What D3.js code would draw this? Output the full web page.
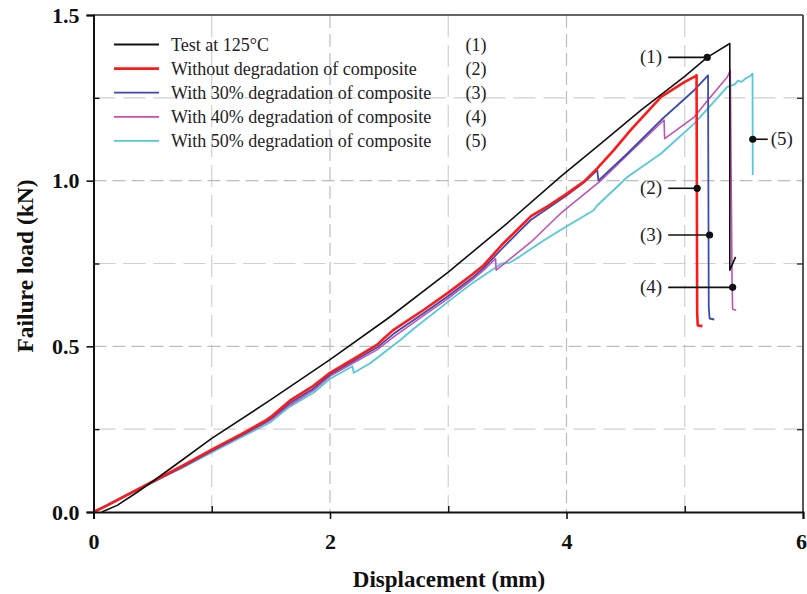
<!DOCTYPE html>
<html>
<head>
<meta charset="utf-8">
<script src="https://cdn.jsdelivr.net/npm/d3@7"></script>
<style>
  html, body { margin: 0; padding: 0; background: #fff; }
  svg { display: block; }
  text { font-family: "Liberation Serif", "Times New Roman", serif; }
</style>
</head>
<body>
<svg id="chart" width="807" height="594"></svg>
<script>
// Load–displacement curves (displacement in mm, load in kN)
const testCurve = [
  [0.07,0],[0.2,0.02],[0.35,0.055],[0.5,0.092],[0.75,0.157],[1.0,0.222],[1.5,0.339],[2.0,0.46],
  [2.5,0.587],[3.0,0.724],[3.5,0.872],[3.95,1.012],[4.3,1.115],
  [4.63,1.213],[5.0,1.315],[5.19,1.372],[5.381,1.414],[5.381,0.73],[5.43,0.77]
];
const curve0 = [
  [0,0],[0.1,0.017],[0.25,0.045],[0.5,0.092],[0.75,0.139],[1.0,0.188],[1.25,0.235],[1.45,0.275],
  [1.5,0.287],[1.66,0.336],[1.86,0.381],[2.0,0.42],[2.2,0.462],[2.4,0.505],[2.45,0.522],[2.535,0.549],
  [2.8,0.612],[3.0,0.662],[3.2,0.716],[3.3,0.745],[3.45,0.805],[3.6,0.858],[3.7,0.893],[3.85,0.925],
  [4.0,0.96],[4.15,0.998],[4.26,1.037],[4.4,1.092],[4.54,1.152],[4.8,1.253],[5.0,1.298],[5.08,1.313],
  [5.1,1.318],[5.105,0.6],[5.11,0.563],[5.15,0.561]
];
const curve30 = [
  [0,0],[0.1,0.017],[0.25,0.045],[0.5,0.09],[0.75,0.136],[1.0,0.185],[1.25,0.232],[1.45,0.271],
  [1.5,0.282],[1.66,0.329],[1.86,0.373],[2.0,0.415],[2.2,0.456],[2.4,0.497],[2.535,0.537],
  [2.8,0.602],[3.0,0.652],[3.2,0.706],[3.3,0.737],[3.45,0.793],[3.6,0.847],[3.7,0.882],[3.85,0.918],
  [4.0,0.955],[4.15,0.995],[4.26,1.032],[4.27,1.0],[4.515,1.082],[4.8,1.183],[5.08,1.273],
  [5.197,1.318],[5.203,0.62],[5.21,0.584],[5.25,0.581]
];
const curve40 = [
  [0,0],[0.1,0.018],[0.25,0.046],[0.5,0.09],[0.75,0.135],[1.0,0.183],[1.25,0.23],[1.45,0.268],
  [1.5,0.278],[1.66,0.323],[1.86,0.367],[2.0,0.41],[2.2,0.45],[2.4,0.49],[2.535,0.528],
  [2.8,0.595],[3.0,0.645],[3.2,0.7],[3.3,0.73],[3.4,0.765],[3.405,0.73],[3.7,0.815],[3.95,0.901],
  [4.29,1.0],[4.55,1.09],[4.825,1.183],[4.83,1.127],[5.08,1.192],[5.2,1.245],[5.36,1.313],
  [5.385,1.333],[5.4,0.7],[5.405,0.612],[5.435,0.609]
];
const curve50 = [
  [0,0],[0.1,0.019],[0.25,0.047],[0.5,0.09],[0.75,0.133],[1.0,0.18],[1.25,0.226],[1.45,0.262],
  [1.5,0.272],[1.66,0.318],[1.86,0.36],[2.0,0.402],[2.19,0.44],[2.2,0.42],[2.34,0.449],
  [2.595,0.519],[2.71,0.554],[3.0,0.635],[3.2,0.69],[3.41,0.74],[3.45,0.75],[3.52,0.752],
  [3.6,0.77],[3.8,0.818],[3.95,0.851],[4.23,0.911],[4.26,0.925],[4.515,1.011],[4.8,1.082],
  [5.08,1.172],[5.36,1.283],[5.42,1.29],[5.45,1.302],[5.48,1.298],[5.52,1.31],[5.55,1.315],
  [5.573,1.323],[5.575,1.017]
];

const seriesNames = [
  "Test at 125°C",
  "Without degradation of composite",
  "With 30% degradation of composite",
  "With 40% degradation of composite",
  "With 50% degradation of composite"
];
const seriesTags = ["(1)", "(2)", "(3)", "(4)", "(5)"];
const seriesColors = ["#111111", "#ff1a1a", "#3c4cae", "#c251b4", "#55c9da"];
const seriesWidths = [1.6, 2.6, 1.8, 1.6, 1.8];
const seriesData = [testCurve, curve0, curve30, curve40, curve50];

// Callout points sitting on each failure branch
const calloutPoints = [[5.19, 1.372], [5.105, 0.977], [5.21, 0.836], [5.405, 0.678], [5.575, 1.125]];

const xTicksMajor = [0, 2, 4, 6];
const xTicksMinor = [1, 3, 5];
const yTicksMajor = [0, 0.5, 1.0, 1.5];
const yTicksMinor = [0.25, 0.75, 1.25];

const svg = d3.select("#chart");
const L = 93.5, R = 803, T = 15, B = 512;
const x = d3.scaleLinear().domain([0, 6]).range([L, R]);
const y = d3.scaleLinear().domain([0, 1.5]).range([B, T]);

// Dashed grid
const grid = svg.append("g");
grid.selectAll(".gx").data(xTicksMinor.concat([2, 4])).join("line")
  .attr("x1", d => x(d)).attr("x2", d => x(d)).attr("y1", T).attr("y2", B)
  .attr("stroke", d => xTicksMajor.includes(d) ? "#bdbdbd" : "#d0d0d0")
  .attr("stroke-width", 1.2)
  .attr("stroke-dasharray", d => xTicksMajor.includes(d) ? "13,6" : "22,8");
grid.selectAll(".gy").data(yTicksMinor.concat([0.5, 1.0])).join("line")
  .attr("x1", L).attr("x2", R).attr("y1", d => y(d)).attr("y2", d => y(d))
  .attr("stroke", d => yTicksMajor.includes(d) ? "#bdbdbd" : "#d0d0d0")
  .attr("stroke-width", 1.2)
  .attr("stroke-dasharray", d => yTicksMajor.includes(d) ? "13,6" : "22,8");

// Curves
const line = d3.line().x(d => x(d[0])).y(d => y(d[1]));
const curves = svg.append("g");
[4, 3, 2, 1, 0].forEach(i => {
  curves.append("path").datum(seriesData[i])
    .attr("d", line)
    .attr("fill", "none")
    .attr("stroke", seriesColors[i])
    .attr("stroke-width", seriesWidths[i])
    .attr("stroke-linejoin", "round");
});

// Frame and axes
const frame = svg.append("g");
frame.append("line").attr("x1", L).attr("x2", R).attr("y1", T).attr("y2", T)
  .attr("stroke", "#333").attr("stroke-width", 1.5);
frame.append("line").attr("x1", R).attr("x2", R).attr("y1", T).attr("y2", B)
  .attr("stroke", "#444").attr("stroke-width", 1.8);

const xAxis = d3.axisBottom(x).tickValues(xTicksMajor).tickFormat(d3.format("d")).tickSize(7).tickPadding(14);
const gx = svg.append("g").attr("transform", `translate(0,${B})`).call(xAxis);
gx.select(".domain").attr("stroke", "#111").attr("stroke-width", 2);
gx.selectAll(".tick line").attr("stroke", "#111").attr("stroke-width", 1.6);
gx.selectAll(".tick text").attr("font-size", 22).attr("font-weight", "bold")
  .attr("font-family", "Liberation Serif, serif").attr("fill", "#111")
  .attr("dx", d => d === 6 ? -2 : 0);

const xMinor = d3.axisTop(x).tickValues(xTicksMinor).tickFormat("").tickSize(6);
const gxm = svg.append("g").attr("transform", `translate(0,${B})`).call(xMinor);
gxm.select(".domain").remove();
gxm.selectAll(".tick line").attr("stroke", "#111").attr("stroke-width", 1.4);

const yAxis = d3.axisLeft(y).tickValues(yTicksMajor).tickFormat(d3.format(".1f")).tickSize(7).tickPadding(7);
const gy = svg.append("g").attr("transform", `translate(${L},0)`).call(yAxis);
gy.select(".domain").attr("stroke", "#111").attr("stroke-width", 2);
gy.selectAll(".tick line").attr("stroke", "#111").attr("stroke-width", 1.6);
gy.selectAll(".tick text").attr("font-size", 22).attr("font-weight", "bold")
  .attr("font-family", "Liberation Serif, serif").attr("fill", "#111");

const yMinor = d3.axisRight(y).tickValues(yTicksMinor).tickFormat("").tickSize(6);
const gym = svg.append("g").attr("transform", `translate(${L},0)`).call(yMinor);
gym.select(".domain").remove();
gym.selectAll(".tick line").attr("stroke", "#111").attr("stroke-width", 1.4);

const yMinorR = d3.axisLeft(y).tickValues(yTicksMinor).tickFormat("").tickSize(6);
const gymr = svg.append("g").attr("transform", `translate(${R},0)`).call(yMinorR);
gymr.select(".domain").remove();
gymr.selectAll(".tick line").attr("stroke", "#333").attr("stroke-width", 1.4);

// Axis titles
svg.append("text").attr("x", 449).attr("y", 587).attr("text-anchor", "middle")
  .attr("font-size", 23).attr("font-weight", "bold").attr("fill", "#111")
  .text("Displacement (mm)");
svg.append("text").attr("transform", "translate(33,266) rotate(-90)").attr("text-anchor", "middle")
  .attr("font-size", 23.5).attr("font-weight", "bold").attr("fill", "#111")
  .text("Failure load (kN)");

// Legend
const legend = svg.append("g");
seriesNames.forEach((name, i) => {
  const ly = 44.5 + i * 24.1;
  legend.append("line").attr("x1", 114).attr("x2", 159).attr("y1", ly).attr("y2", ly)
    .attr("stroke", seriesColors[i]).attr("stroke-width", i === 1 ? 2.6 : 1.8);
  legend.append("text").attr("x", 171).attr("y", ly + 6).attr("font-size", 18).attr("fill", "#222")
    .text(name);
  legend.append("text").attr("x", 476).attr("y", ly + 6).attr("font-size", 18).attr("fill", "#222")
    .attr("text-anchor", "middle").text(seriesTags[i]);
});

// Callouts pointing at each failure point
const callouts = svg.append("g");
calloutPoints.forEach((p, i) => {
  const px = x(p[0]), py = y(p[1]);
  const right = i === 4;
  const lx = right ? px + 15 : x(4.86);
  callouts.append("line").attr("x1", lx).attr("x2", px).attr("y1", py).attr("y2", py)
    .attr("stroke", "#111").attr("stroke-width", 1.6);
  callouts.append("circle").attr("cx", px).attr("cy", py).attr("r", 3.6).attr("fill", "#111");
  callouts.append("text")
    .attr("x", right ? lx + 3 : lx - 6).attr("y", py + 6)
    .attr("text-anchor", right ? "start" : "end")
    .attr("font-size", 19).attr("fill", "#222")
    .text(seriesTags[i]);
});
</script>
</body>
</html>
